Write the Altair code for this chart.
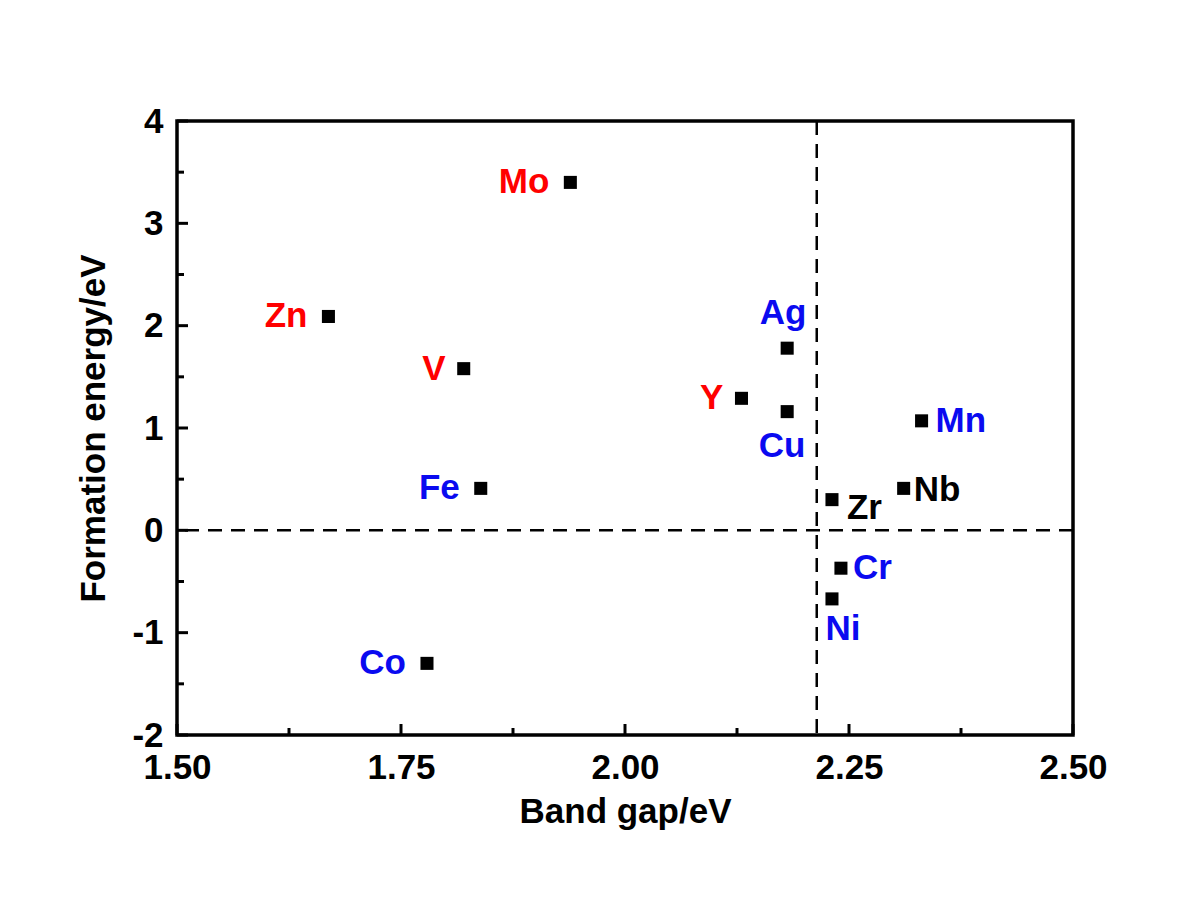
import altair as alt
import pandas as pd

# ---- data ----
elements = ["Mo", "Zn", "V", "Ag", "Y", "Cu", "Mn", "Fe", "Nb", "Zr", "Cr", "Ni", "Co"]
band_gap = [1.939, 1.669, 1.820, 2.181, 2.130, 2.181, 2.331, 1.839, 2.311, 2.231, 2.241, 2.231, 1.779]
formation_energy = [3.40, 2.09, 1.58, 1.78, 1.29, 1.16, 1.07, 0.41, 0.41, 0.30, -0.37, -0.67, -1.30]
category = ["I", "I", "I", "II", "I", "II", "II", "II", "III", "III", "II", "II", "II"]

x_major = [1.50, 1.75, 2.00, 2.25, 2.50]
x_minor = [1.625, 1.875, 2.125, 2.375]
y_major = [-2, -1, 0, 1, 2, 3, 4]
y_minor = [-1.5, -0.5, 0.5, 1.5, 2.5, 3.5]
vline_x = [2.214]
hline_y = [0.0]

df = pd.DataFrame({"el": elements, "bg": band_gap, "fe": formation_energy, "cat": category})

W, H = 896, 614
FONT = "Liberation Sans"

xs = alt.Scale(domain=[1.5, 2.5], nice=False, zero=False)
ys = alt.Scale(domain=[-2, 4], nice=False, zero=False)
cscale = alt.Scale(domain=["I", "II", "III"], range=["#FF0000", "#0A0AF0", "#000000"])

x_axis = alt.Axis(values=x_major, format=".2f", ticks=False, tickSize=0, grid=False, domain=False,
                  labelFlush=False, labelOverlap=False,
                  labelFont=FONT, labelFontSize=35, labelFontWeight="bold", labelColor="black",
                  labelPadding=15, title="Band gap/eV", titleFont=FONT, titleFontSize=35,
                  titleFontWeight="bold", titleColor="black", titlePadding=9)
y_axis = alt.Axis(values=y_major, labelExpr="'' + datum.value", ticks=False, tickSize=0, grid=False,
                  domain=False, labelFlush=False, labelOverlap=False,
                  labelFont=FONT, labelFontSize=35, labelFontWeight="bold", labelColor="black",
                  labelPadding=14, title="Formation energy/eV", titleFont=FONT, titleFontSize=35,
                  titleFontWeight="bold", titleColor="black", titlePadding=20)

base = alt.Chart(df)

points = base.mark_point(shape="square", filled=True, size=170, color="black", opacity=1).encode(
    x=alt.X("bg:Q", scale=xs, axis=x_axis),
    y=alt.Y("fe:Q", scale=ys, axis=y_axis),
)


def labels(names, align, dx, dy):
    return base.transform_filter(
        alt.FieldOneOfPredicate(field="el", oneOf=names)
    ).mark_text(align=align, baseline="middle", dx=dx, dy=dy, font=FONT, fontSize=35,
                fontWeight="bold").encode(
        x=alt.X("bg:Q", scale=xs),
        y=alt.Y("fe:Q", scale=ys),
        text="el:N",
        color=alt.Color("cat:N", scale=cscale, legend=None),
    )


lab_layers = [
    labels(["Mo", "Zn", "Fe", "Co"], "right", -21, 0),
    labels(["V", "Y"], "right", -18, 0),
    labels(["Mn"], "left", 14, 0),
    labels(["Nb"], "left", 10, 2),
    labels(["Cr"], "left", 12, 0),
    labels(["Zr"], "left", 15, 8),
    labels(["Ag"], "center", -4, -35),
    labels(["Cu"], "center", -5, 34),
    labels(["Ni"], "center", 11, 30),
]

vline = alt.Chart(pd.DataFrame({"v": vline_x})).mark_rule(
    color="black", strokeWidth=2.5, strokeDash=[14, 9]).encode(x=alt.X("v:Q", scale=xs))
hline = alt.Chart(pd.DataFrame({"h": hline_y})).mark_rule(
    color="black", strokeWidth=2.5, strokeDash=[14, 9]).encode(y=alt.Y("h:Q", scale=ys))

# inward ticks
xt_major = alt.Chart(pd.DataFrame({"t": x_major})).mark_rule(color="black", strokeWidth=3).encode(
    x=alt.X("t:Q", scale=xs), y=alt.value(H), y2=alt.value(H - 11))
xt_minor = alt.Chart(pd.DataFrame({"t": x_minor})).mark_rule(color="black", strokeWidth=3).encode(
    x=alt.X("t:Q", scale=xs), y=alt.value(H), y2=alt.value(H - 7))
yt_major = alt.Chart(pd.DataFrame({"t": y_major})).mark_rule(color="black", strokeWidth=3).encode(
    y=alt.Y("t:Q", scale=ys), x=alt.value(0), x2=alt.value(11))
yt_minor = alt.Chart(pd.DataFrame({"t": y_minor})).mark_rule(color="black", strokeWidth=3).encode(
    y=alt.Y("t:Q", scale=ys), x=alt.value(0), x2=alt.value(7))

chart = alt.layer(
    vline, hline, xt_major, xt_minor, yt_major, yt_minor, points, *lab_layers
).properties(
    width=W, height=H,
    background="white",
    autosize=alt.AutoSizeParams(type="none"),
    padding={"left": 169, "top": 113, "right": 110, "bottom": 150},
).configure_view(
    stroke="black", strokeWidth=3.5, strokeOpacity=1
)

chart.save("out.html", embed_options={"renderer": "svg", "actions": False})
